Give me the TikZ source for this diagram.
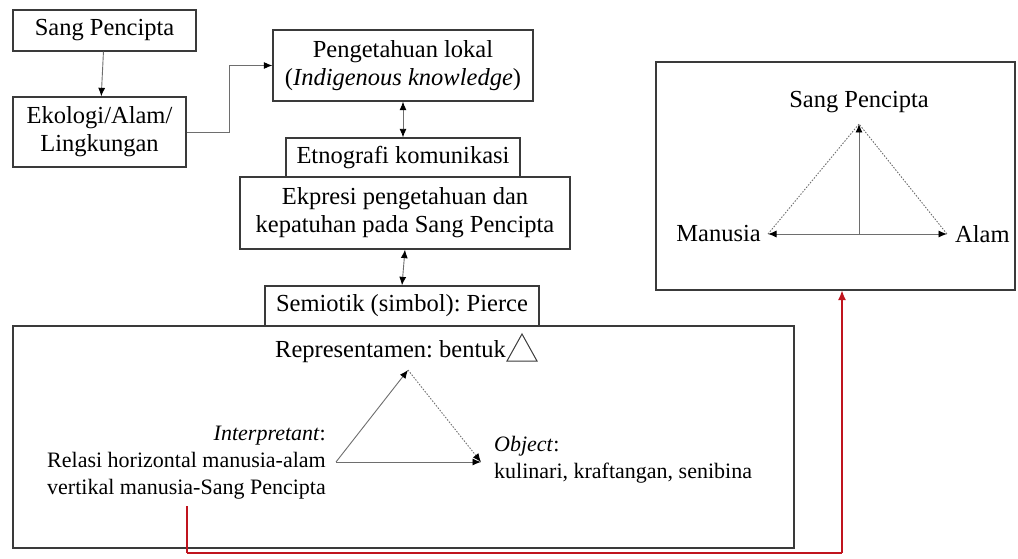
\documentclass[tikz,border=0pt]{standalone}
\usepackage{fontspec}
\setmainfont{Liberation Serif}
\usetikzlibrary{arrows.meta}
\definecolor{boxline}{HTML}{3A3A3A}
\definecolor{conn}{HTML}{6E6E6E}
\definecolor{redline}{HTML}{C0141E}
\tikzset{
  bx/.style={draw=boxline, line width=1.3pt, inner sep=0pt, align=center,
    font=\fontsize{24.5}{28}\selectfont},
  lbl/.style={inner sep=0pt, font=\fontsize{24.5}{28}\selectfont},
  small/.style={inner sep=0pt, font=\fontsize{22}{27}\selectfont},
  tip/.style={-{Latex[length=8.5pt,width=7pt,color=black]}},
  dtip/.style={{Latex[length=8.5pt,width=7pt,color=black]}-{Latex[length=8.5pt,width=7pt,color=black]}},
  conn/.style={draw=conn, line width=0.9pt},
  dots/.style={draw=conn, line width=0.9pt, dash pattern=on 1.5pt off 1.5pt},
}
\frenchspacing
\begin{document}
\begin{tikzpicture}[x=1pt,y=-1pt]
\useasboundingbox (0,0) rectangle (1018,559);
% boxes
\node[bx, minimum width=183, minimum height=41] (sp) at (104.5,30.5) {Sang Pencipta};
\node[bx, minimum width=173, minimum height=70] (eko) at (99.5,132) {Ekologi/Alam/\\Lingkungan};
\node[bx, minimum width=260, minimum height=71] (pl) at (403,65.5) {Pengetahuan lokal\\(\textit{Indigenous knowledge})};
\node[bx, minimum width=234, minimum height=39] (etno) at (403,157.5) {Etnografi komunikasi};
\node[bx, minimum width=330, minimum height=72] (ekp) at (405,213) {Ekpresi pengetahuan dan\\kepatuhan pada Sang Pencipta};
\node[bx, minimum width=274, minimum height=40] (sem) at (402,306) {Semiotik (simbol): Pierce};
\node[bx, minimum width=781, minimum height=222] (big) at (403.5,437) {};
\node[bx, minimum width=359, minimum height=228] (rb) at (835.5,176) {};
% left connectors
\draw[conn, tip] (sp) -- (eko);
\draw[conn, tip] (eko.east) -- ++(43,0) |- (pl.west);
\draw[conn, dtip] (pl.south) -- (etno.north);
\draw[conn, dtip] (ekp.south) -- (sem.north);
% representamen
\node[lbl, anchor=base east] (rep) at (506,357) {Representamen: bentuk};
\coordinate (t1) at (507,361);
\coordinate (t2) at (537,361);
\coordinate (t3) at (522,334);
\draw[boxline, line width=1pt, line join=miter] (t1) -- (t2) -- (t3) -- cycle;
% inner triangle
\coordinate (vi) at (336,462);
\coordinate (vr) at (408,370);
\coordinate (vo) at (481,462);
\draw[conn, tip] (vi) -- (vr);
\draw[dots, tip] (vr) -- (vo);
\draw[conn, tip] (vi) -- (vo);
\node[small, anchor=east, align=right] (interp) at (326,463) {\textit{Interpretant}:\\Relasi horizontal manusia-alam\\vertikal manusia-Sang Pencipta};
\node[small, anchor=west, align=left] (obj) at (494,460) {\textit{Object}:\\kulinari, kraftangan, senibina};
% right box content
\node[lbl] (rsp) at (859,102) {Sang Pencipta};
\node[lbl, anchor=east] (man) at (761,234) {Manusia};
\node[lbl, anchor=west] (alam) at (955,234) {Alam};
\coordinate (rt) at (859,124);
\coordinate (rl) at (768,234);
\coordinate (rr) at (947,234);
\coordinate (rm) at (859,234);
\draw[conn, dtip] (rl) -- (rr);
\draw[conn, tip] (rm) -- (rt);
\draw[dots] (rl) -- (rt) -- (rr);
% red connector
\coordinate (r0) at (187,506);
\coordinate (r1) at (187,553);
\coordinate (r2) at (842,553);
\coordinate (rs) at (842,290);
\draw[redline, line width=2.6pt] (r0) -- (r1);
\draw[redline, line width=1.3pt] (r1) -- (r2);
\draw[redline, line width=2.4pt, -{Latex[length=10pt,width=8pt]}] (r2) -- (rs);
\end{tikzpicture}
\end{document}
